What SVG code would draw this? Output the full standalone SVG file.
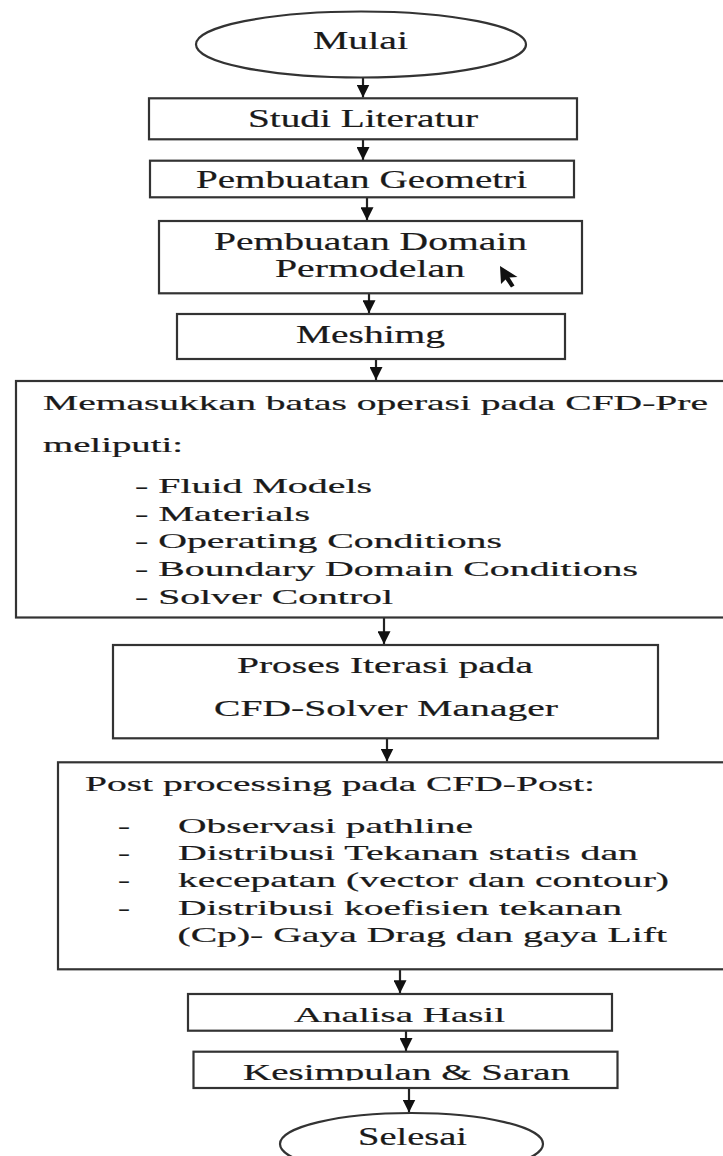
<svg xmlns="http://www.w3.org/2000/svg" width="723" height="1156" viewBox="0 0 723 1156">
<style>
.shape{fill:#fff;stroke:#333;stroke-width:2.2}
.t{font-family:"Liberation Serif","Times New Roman",serif;fill:#1a1a1a;stroke:#1a1a1a;stroke-width:0.2}
.big{font-size:25.5px}
.mid{font-size:22.5px}
.sm{font-size:21px}
.conn{stroke:#222;stroke-width:2.2;fill:none}
</style>
<defs>
<marker id="ah" markerUnits="userSpaceOnUse" markerWidth="14" markerHeight="13" refX="13" refY="6.5" orient="auto">
<path d="M0,0 L13,6.5 L0,13 z" fill="#111"/>
</marker>
<clipPath id="kclip"><rect x="190" y="1040" width="440" height="40.5"/></clipPath>
</defs>
<rect width="723" height="1156" fill="#fff"/>

<g id="connectors">
<line class="conn" x1="363" y1="77.3" x2="363" y2="97.5" marker-end="url(#ah)"/>
<line class="conn" x1="363" y1="139.3" x2="363" y2="160" marker-end="url(#ah)"/>
<line class="conn" x1="367" y1="197.3" x2="367" y2="220.3" marker-end="url(#ah)"/>
<line class="conn" x1="369" y1="293.3" x2="369" y2="313.3" marker-end="url(#ah)"/>
<line class="conn" x1="376" y1="359" x2="376" y2="380" marker-end="url(#ah)"/>
<line class="conn" x1="384" y1="618" x2="384" y2="644.3" marker-end="url(#ah)"/>
<line class="conn" x1="387" y1="738.3" x2="387" y2="761.5" marker-end="url(#ah)"/>
<line class="conn" x1="400" y1="969.3" x2="400" y2="993.3" marker-end="url(#ah)"/>
<line class="conn" x1="406" y1="1030.7" x2="406" y2="1051" marker-end="url(#ah)"/>
<line class="conn" x1="409" y1="1088" x2="409" y2="1112.5" marker-end="url(#ah)"/>
</g>

<g id="mulai">
<ellipse class="shape" cx="361" cy="44.5" rx="165" ry="33"/>
<text class="t big" x="313" y="49.3" textLength="95" lengthAdjust="spacingAndGlyphs">Mulai</text>
</g>

<g id="studi-literatur">
<rect class="shape" x="149" y="98.3" width="428" height="41"/>
<text class="t big" x="248" y="126.7" textLength="230" lengthAdjust="spacingAndGlyphs">Studi Literatur</text>
</g>

<g id="pembuatan-geometri">
<rect class="shape" x="150" y="160.7" width="424" height="36.6"/>
<text class="t big" x="196" y="188.3" textLength="331" lengthAdjust="spacingAndGlyphs">Pembuatan Geometri</text>
</g>

<g id="pembuatan-domain">
<rect class="shape" x="159" y="221" width="423" height="72.3"/>
<text class="t big" x="214" y="250" textLength="313" lengthAdjust="spacingAndGlyphs">Pembuatan Domain</text>
<text class="t big" x="275" y="277.3" textLength="190" lengthAdjust="spacingAndGlyphs">Permodelan</text>
<path d="M500,266 L501,284 L505.5,279.5 L511,287.5 L514.5,285.5 L509.5,277.5 L517.5,277 Z" fill="#111"/>
</g>

<g id="meshing">
<rect class="shape" x="177" y="314" width="388" height="45"/>
<text class="t big" x="296" y="342.7" textLength="149" lengthAdjust="spacingAndGlyphs">Meshimg</text>
</g>

<g id="cfd-pre">
<rect class="shape" x="16" y="381" width="720" height="236.5"/>
<text class="t sm" x="43" y="410" textLength="665" lengthAdjust="spacingAndGlyphs">Memasukkan batas operasi pada CFD-Pre</text>
<text class="t sm" x="43" y="451.7" textLength="140" lengthAdjust="spacingAndGlyphs">meliputi:</text>
<text class="t sm" x="135" y="493.3" textLength="237" lengthAdjust="spacingAndGlyphs">- Fluid Models</text>
<text class="t sm" x="135" y="520.7" textLength="175" lengthAdjust="spacingAndGlyphs">- Materials</text>
<text class="t sm" x="135" y="548.3" textLength="367" lengthAdjust="spacingAndGlyphs">- Operating Conditions</text>
<text class="t sm" x="135" y="576" textLength="503" lengthAdjust="spacingAndGlyphs">- Boundary Domain Conditions</text>
<text class="t sm" x="135" y="604" textLength="258" lengthAdjust="spacingAndGlyphs">- Solver Control</text>
</g>

<g id="cfd-solver">
<rect class="shape" x="113" y="645" width="545" height="93.3"/>
<text class="t mid" x="237" y="672.7" textLength="296" lengthAdjust="spacingAndGlyphs">Proses Iterasi pada</text>
<text class="t mid" x="214" y="716" textLength="344" lengthAdjust="spacingAndGlyphs">CFD-Solver Manager</text>
</g>

<g id="cfd-post">
<rect class="shape" x="58" y="762.3" width="680" height="207"/>
<text class="t sm" x="85" y="790.7" textLength="510" lengthAdjust="spacingAndGlyphs">Post processing pada CFD-Post:</text>
<text class="t sm" x="118" y="833.3" textLength="12" lengthAdjust="spacingAndGlyphs">-</text>
<text class="t sm" x="118" y="860" textLength="12" lengthAdjust="spacingAndGlyphs">-</text>
<text class="t sm" x="118" y="887.3" textLength="12" lengthAdjust="spacingAndGlyphs">-</text>
<text class="t sm" x="118" y="915" textLength="12" lengthAdjust="spacingAndGlyphs">-</text>
<text class="t sm" x="178" y="833.3" textLength="295" lengthAdjust="spacingAndGlyphs">Observasi pathline</text>
<text class="t sm" x="178" y="860" textLength="460" lengthAdjust="spacingAndGlyphs">Distribusi Tekanan statis dan</text>
<text class="t sm" x="178" y="887.3" textLength="491" lengthAdjust="spacingAndGlyphs">kecepatan (vector dan contour)</text>
<text class="t sm" x="178" y="915" textLength="444" lengthAdjust="spacingAndGlyphs">Distribusi koefisien tekanan</text>
<text class="t sm" x="177.5" y="942.3" textLength="489.5" lengthAdjust="spacingAndGlyphs">(Cp)- Gaya Drag dan gaya Lift</text>
</g>

<g id="analisa-hasil">
<rect class="shape" x="188" y="994" width="424" height="36.7"/>
<text class="t sm" x="294" y="1021.7" textLength="211" lengthAdjust="spacingAndGlyphs">Analisa Hasil</text>
</g>

<g id="kesimpulan-saran">
<rect class="shape" x="193.5" y="1051.7" width="424" height="36.3"/>
<text class="t mid" x="243" y="1079.5" textLength="327" lengthAdjust="spacingAndGlyphs" clip-path="url(#kclip)">Kesimpulan &amp; Saran</text>
</g>

<g id="selesai">
<ellipse class="shape" cx="411.5" cy="1144" rx="131.5" ry="31"/>
<text class="t big" x="358" y="1145" textLength="109" lengthAdjust="spacingAndGlyphs">Selesai</text>
</g>
</svg>
